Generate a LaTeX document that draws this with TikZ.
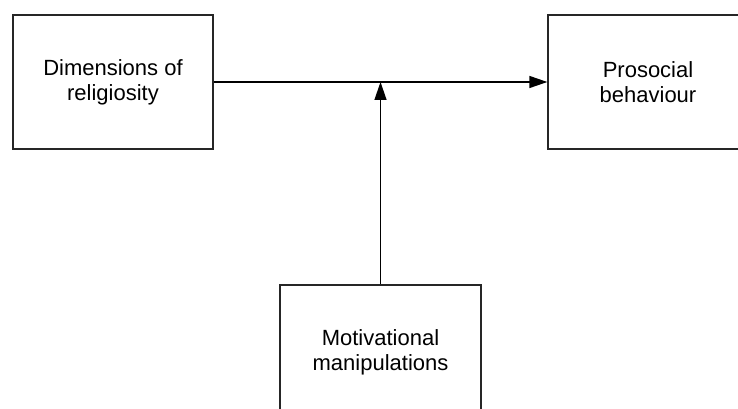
\documentclass[tikz,border=0pt]{standalone}
\usepackage{fontspec}
\setmainfont{Liberation Sans}
\usetikzlibrary{arrows.meta}
\begin{document}
\begin{tikzpicture}[x=0.75pt,y=-0.75pt,
  box/.style={draw=black!85, line width=1pt, rectangle, minimum width=150pt, minimum height=100.5pt,
    align=center, inner sep=0pt, font=\fontsize{16.5}{18.75}\selectfont},
  conn/.style={draw=black, line width=1pt, -{Triangle[length=13.5pt,width=9pt]}}]
\useasboundingbox (0,0) rectangle (738,409);
\clip (0,0) rectangle (738,409);
\node[box] (a) at (113,82) {Dimensions of\\religiosity};
\node[box] (b) at (648,82) {Prosocial\\behaviour};
\node[box, minimum width=150.75pt] (c) at (380.5,352) {Motivational\\manipulations};
\draw[conn] (a.east) -- (b.west);
\draw[conn] (c.north) -- (c.north |- a.east);
\end{tikzpicture}
\end{document}
